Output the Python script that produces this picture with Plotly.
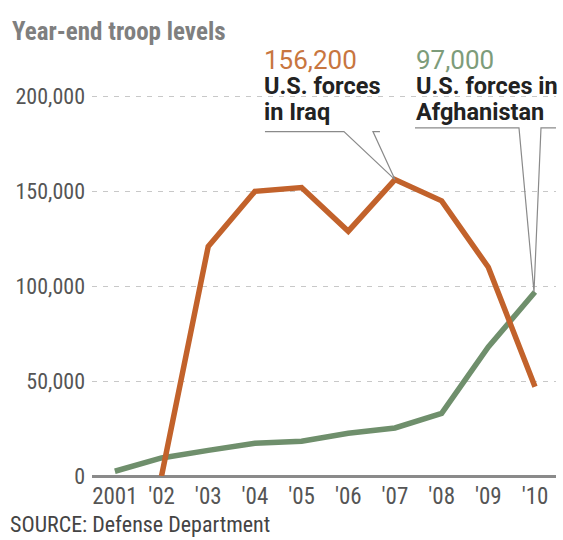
import plotly.graph_objects as go

# Year-end U.S. troop levels (Defense Department)
years = [2001, 2002, 2003, 2004, 2005, 2006, 2007, 2008, 2009, 2010]
year_labels = ["2001", "'02", "'03", "'04", "'05", "'06", "'07", "'08", "'09", "'10"]
iraq_years = [2002, 2003, 2004, 2005, 2006, 2007, 2008, 2009, 2010]
iraq = [0, 121000, 150000, 152000, 129000, 156200, 145000, 110000, 47000]
afghanistan = [2500, 9500, 13500, 17300, 18300, 22500, 25300, 33000, 68000, 97000]
y_ticks = [0, 50000, 100000, 150000, 200000]

ORANGE = "#c2622b"
GREEN = "#6f8f6c"

W, H = 563, 540
Y_TOP = 205000
L, R, B = 92, 7, 64
PH = (H - B - 96) * Y_TOP / 200000
T = H - B - PH
PW = W - L - R


def px(x):
    return (x - L) / PW


def py(y):
    return (H - B - y) / PH


fig = go.Figure()
fig.add_trace(go.Scatter(x=years, y=afghanistan, mode="lines",
                         line=dict(color=GREEN, width=5.5), hoverinfo="skip",
                         cliponaxis=False))
fig.add_trace(go.Scatter(x=iraq_years, y=iraq, mode="lines",
                         line=dict(color=ORANGE, width=5.5), hoverinfo="skip",
                         cliponaxis=False))

# Callout leaders, anchored at the labelled data points, drawn in pixel offsets
iraq_peak = (iraq_years[iraq.index(max(iraq))], max(iraq))
afg_last = (years[-1], afghanistan[-1])
fig.add_shape(type="path", xref="x", yref="y", xsizemode="pixel", ysizemode="pixel",
              xanchor=iraq_peak[0], yanchor=iraq_peak[1],
              path="M -130,48 L -51,48 L 0,0 L -22,48 L -15,48",
              line=dict(color="#8a8a8a", width=1.2))
fig.add_shape(type="path", xref="x", yref="y", xsizemode="pixel", ysizemode="pixel",
              xanchor=afg_last[0], yanchor=afg_last[1],
              path="M -120,164 L -16,164 L -1,0 L 6,164 L 21,164",
              line=dict(color="#8a8a8a", width=1.2))

NARROW = "Roboto Condensed, Roboto, sans-serif"
SANS = "Roboto, Liberation Sans, sans-serif"


def callout(value, color, lines):
    head = f"<span style='font-size:26px;color:{color}'>{value:,}</span>"
    body = "<br>".join(f"<span style='font-size:23.5px'><b>{t}</b></span>" for t in lines)
    return head + "<br>" + body


ann = [
    dict(text="<b>Year-end troop levels</b>", x=px(10), y=py(31),
         font=dict(family=NARROW, size=25, color="#7f7f7f")),
    dict(text=callout(iraq_peak[1], "#c8763f", ["U.S. forces", "in Iraq"]),
         x=px(262), y=py(85),
         font=dict(family=SANS, size=19.5, color="#222222")),
    dict(text=callout(afg_last[1], "#7d9c7a", ["U.S. forces in", "Afghanistan"]),
         x=px(414), y=py(85),
         font=dict(family=SANS, size=19.5, color="#222222")),
    dict(text="SOURCE: Defense Department", x=px(8), y=py(525),
         font=dict(family=NARROW, size=22, color="#444444")),
]
for a in ann:
    fig.add_annotation(xref="paper", yref="paper", xanchor="left", yanchor="middle",
                       align="left", showarrow=False, **a)

fig.update_layout(
    width=W, height=H,
    margin=dict(l=L, r=R, t=T, b=B, pad=0),
    paper_bgcolor="white", plot_bgcolor="white",
    showlegend=False,
    xaxis=dict(range=[2000.51, 2010.45], tickvals=years, ticktext=year_labels,
               showgrid=False, zeroline=False, showline=False, ticks="",
               ticklabelstandoff=4,
               tickfont=dict(family=NARROW, size=23, color="#555555"),
               fixedrange=True),
    yaxis=dict(range=[0, Y_TOP], tickvals=y_ticks, tickformat=",d",
               showgrid=True, gridcolor="#c8c8c8", gridwidth=1.3, griddash="5px,6px",
               zeroline=True, zerolinecolor="#8a8a8a", zerolinewidth=2.5,
               showline=False, ticks="", ticklabelstandoff=6,
               tickfont=dict(family=NARROW, size=22, color="#555555"),
               fixedrange=True),
)

fig.write_html("out.html")
